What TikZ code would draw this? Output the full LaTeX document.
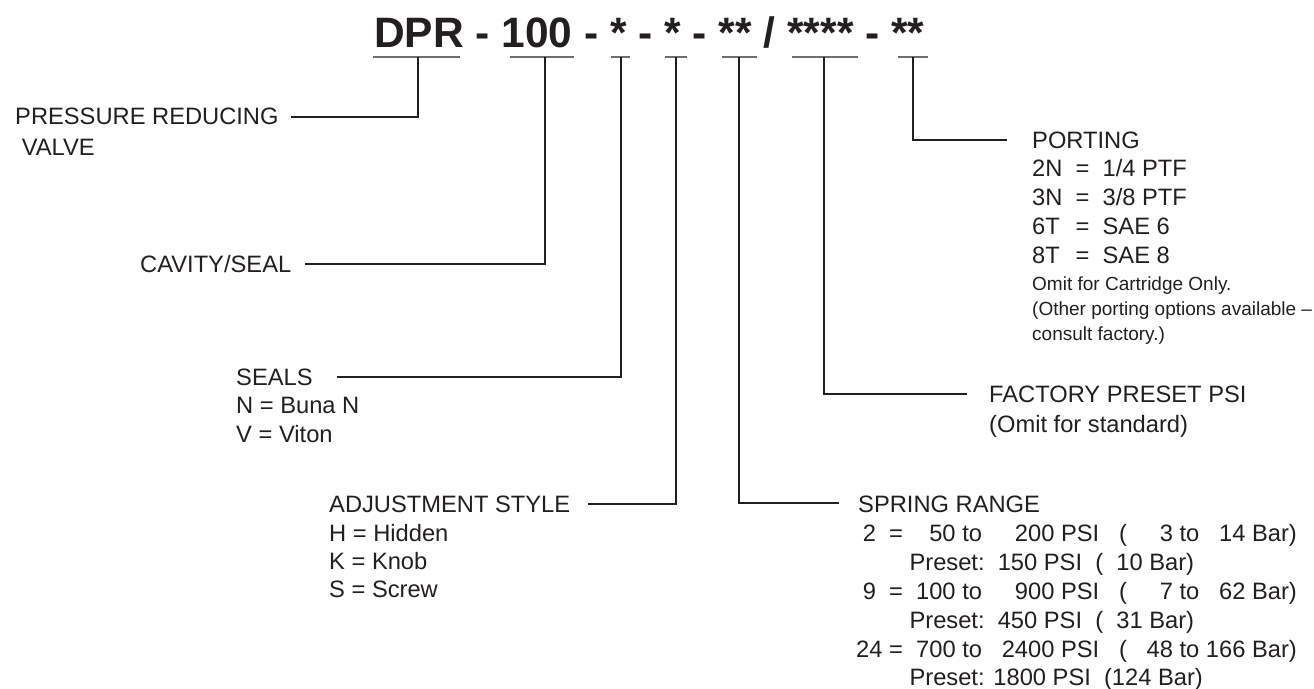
\documentclass[tikz,border=0pt]{standalone}
\usepackage{fontspec}
\setmainfont{Liberation Sans}
\definecolor{ink}{HTML}{231F20}
\definecolor{ulgray}{HTML}{6D6E71}
\newcommand{\fsp}{\hphantom{0}}
\begin{document}
\begin{tikzpicture}[x=1pt,y=-1pt,
  txt/.style={anchor=base west,inner sep=0pt,font=\fontsize{23.7}{29}\selectfont,text=ink},
  smalltxt/.style={anchor=base west,inner sep=0pt,font=\fontsize{19}{25}\selectfont,text=ink},
  ul/.style={draw=ulgray,line width=1.6pt},
  conn/.style={draw=ink,line width=1.1pt}]
\useasboundingbox (0,0) rectangle (1314,688);

% title
\node[anchor=base west,inner sep=0pt,text=ink,font=\fontsize{42.5}{50}\selectfont\bfseries] (title) at (374,47) {DPR - 100 - * - * - ** / **** - **};

% underline tap points
\coordinate (tA) at (418,57);
\coordinate (tB) at (545,57);
\coordinate (tC) at (621,57);
\coordinate (tD) at (676,57);
\coordinate (tE) at (739,57);
\coordinate (tF) at (824,57);
\coordinate (tG) at (913,57);

\draw[ul] (373,57) -- (460,57);
\draw[ul] (510,57) -- (574,57);
\draw[ul] (611,57) -- (630,57);
\draw[ul] (665,57) -- (687,57);
\draw[ul] (722,57) -- (757,57);
\draw[ul] (792,57) -- (858,57);
\draw[ul] (898,57) -- (928,57);

% connector free ends
\coordinate (eA) at (291,117);
\coordinate (eB) at (305,264);
\coordinate (eC) at (337,377);
\coordinate (eD) at (588,504);
\coordinate (eE) at (839,503);
\coordinate (eF) at (967,394);
\coordinate (eG) at (1007,140);

\draw[conn] (tA) |- (eA);
\draw[conn] (tB) |- (eB);
\draw[conn] (tC) |- (eC);
\draw[conn] (tD) |- (eD);
\draw[conn] (tE) |- (eE);
\draw[conn] (tF) |- (eF);
\draw[conn] (tG) |- (eG);

% pressure reducing valve
\node[txt] (pr1) at (15,124) {PRESSURE REDUCING};
\node[txt] (pr2) at (15,155) {\ VALVE};

% cavity
\node[txt] (cav) at (140,272) {CAVITY/SEAL};

% seals
\node[txt] (seals) at (236,385) {SEALS};
\node[txt] (sealN) at (236,413) {N = Buna N};
\node[txt] (sealV) at (236,442) {V = Viton};

% adjustment
\node[txt] (adj) at (329,512) {ADJUSTMENT STYLE};
\node[txt] (adjH) at (329,541) {H = Hidden};
\node[txt] (adjK) at (329,569) {K = Knob};
\node[txt] (adjS) at (329,597) {S = Screw};

% spring range
\node[txt] (spr) at (858,512) {SPRING RANGE};
\node[txt] (spr1) at (856,541) {\makebox[1.112em][l]{\ 2} =\ \ \fsp 50 to\ \ \ \fsp 200 PSI\ \ \ (\ \ \ \fsp 3 to \fsp 14 Bar)};
\node[txt] (spr2) at (856,570) {\hphantom{24 = }Preset:\ \ 150 PSI\ \ (\ \ 10 Bar)};
\node[txt] (spr3) at (856,599) {\makebox[1.112em][l]{\ 9} =\ \ 100 to\ \ \ \fsp 900 PSI\ \ \ (\ \ \ \fsp 7 to \fsp 62 Bar)};
\node[txt] (spr4) at (856,628) {\hphantom{24 = }Preset:\ \ 450 PSI\ \ (\ \ 31 Bar)};
\node[txt] (spr5) at (856,657) {24 =\ \ 700 to\ \ \ 2400 PSI\ \ \ (\ \ \ 48 to 166 Bar)};
\node[txt] (spr6) at (856,685) {\hphantom{24 = }Preset: 1800 PSI\ \ (124 Bar)};

% factory preset
\node[txt] (fac) at (989,402) {FACTORY PRESET PSI};
\node[txt] (fac2) at (989,432) {(Omit for standard)};

% porting
\node[txt] (port) at (1032,148) {PORTING};
\node[txt] (port1) at (1032,176) {\makebox[1.278em][l]{2N}\ \ =\ \ 1/4 PTF};
\node[txt] (port2) at (1032,205) {\makebox[1.278em][l]{3N}\ \ =\ \ 3/8 PTF};
\node[txt] (port3) at (1032,234) {\makebox[1.278em][l]{6T}\ \ =\ \ SAE 6};
\node[txt] (port4) at (1032,263) {\makebox[1.278em][l]{8T}\ \ =\ \ SAE 8};
\node[smalltxt] (pn1) at (1032,290) {Omit for Cartridge Only.};
\node[smalltxt] (pn2) at (1032,315) {(Other porting options available –};
\node[smalltxt] (pn3) at (1032,340) {consult factory.)};
\end{tikzpicture}
\end{document}
